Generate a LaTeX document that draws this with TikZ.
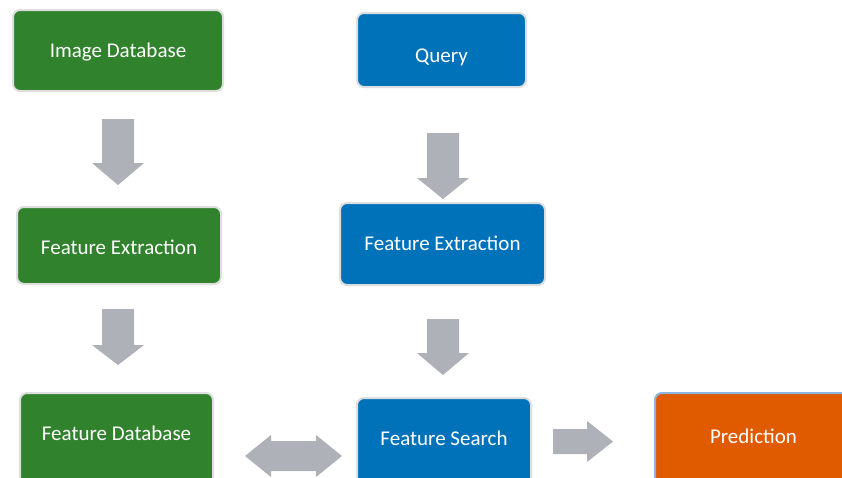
\documentclass[tikz,border=0pt]{standalone}
\usepackage{fontspec}
\setmainfont{Carlito}
\definecolor{boxgreen}{RGB}{49,130,45}
\definecolor{boxblue}{RGB}{0,114,186}
\definecolor{boxorange}{RGB}{224,90,0}
\definecolor{arrowgrey}{RGB}{174,178,184}
\definecolor{rimgrey}{RGB}{222,222,222}
\definecolor{rimblue}{RGB}{140,180,225}
\tikzset{
  box/.style={draw=rimgrey, line width=2pt, rounded corners=7pt, text=white,
    font=\fontsize{21}{25}\selectfont, inner sep=0pt, text height=13.5pt, text depth=0pt},
  greenbox/.style={box, fill=boxgreen},
  bluebox/.style={box, fill=boxblue},
  orangebox/.style={box, fill=boxorange, draw=rimblue},
  blockarrow/.style={fill=arrowgrey, draw=none}
}
\newcommand\dnblock[5]{% x, ytop, yhead, ytip, (shaft half / head half fixed)
  \fill[blockarrow] (#1-#5,#2) -- (#1+#5,#2) -- (#1+#5,#3) -- (#1+#5+10,#3) -- (#1,#4)
    -- (#1-#5-10,#3) -- (#1-#5,#3) -- cycle;}
\begin{document}
\begin{tikzpicture}[x=1pt,y=-1pt]
\useasboundingbox (0,0) rectangle (842,477);
\clip (0,0) rectangle (842,477);
\fill[white] (0,0) rectangle (842,477);
% boxes
\node[greenbox, minimum width=210pt, minimum height=81pt] (imgdb) at (118,50.5) {Image Database};
\node[bluebox, minimum width=169pt, minimum height=74pt] (query) at (441.5,50) {\raisebox{-5.5pt}{Query}};
\node[greenbox, minimum width=204pt, minimum height=77pt] (gfe) at (119,245.5) {\raisebox{-2.5pt}{Feature Extraction}};
\node[bluebox, minimum width=205pt, minimum height=82pt] (bfe) at (442.5,244) {Feature Extraction};
\node[greenbox, minimum width=193pt, minimum height=102pt] (fdb) at (116.5,444) {\raisebox{10pt}{Feature Database}};
\node[bluebox, minimum width=174pt, minimum height=97pt] (fs) at (444,446.5) {\raisebox{7.5pt}{Feature Search}};
\node[orangebox, minimum width=205pt, minimum height=102pt] (pred) at (757.5,444) {\hspace*{-8pt}\raisebox{7.3pt}{Prediction}};
% block arrows (down)
\dnblock{118}{119}{163}{185}{16}
\dnblock{443}{133}{178}{199}{16}
\dnblock{118}{309}{345}{365}{16}
\dnblock{443}{319}{353}{375}{16}
% double arrow
\fill[blockarrow] (245,456) -- (271,435) -- (271,441) -- (316,441) -- (316,435) -- (342,456)
  -- (316,477) -- (316,471) -- (271,471) -- (271,477) -- cycle;
% right arrow
\fill[blockarrow] (553,429) -- (587,429) -- (587,421) -- (613,441.5) -- (587,462) -- (587,454)
  -- (553,454) -- cycle;
\end{tikzpicture}
\end{document}
